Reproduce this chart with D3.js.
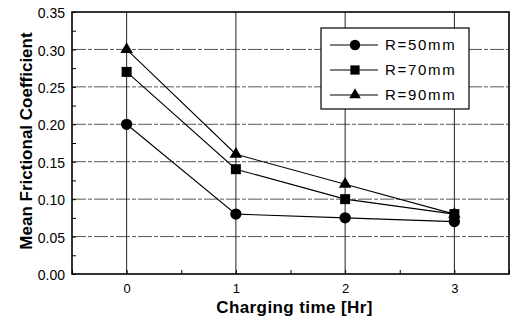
<!DOCTYPE html>
<html>
<head>
<meta charset="utf-8">
<script src="https://cdn.jsdelivr.net/npm/d3@7"></script>
<style>
  body { margin: 0; background: #fff; }
  svg { font-family: "Liberation Sans", Arial, sans-serif; }
</style>
</head>
<body>
<div id="chart"></div>
<script>
const hours = [0, 1, 2, 3];
const r50 = [0.20, 0.08, 0.075, 0.07];
const r70 = [0.27, 0.14, 0.10, 0.08];
const r90 = [0.30, 0.16, 0.12, 0.08];
const seriesNames = ["R=50mm", "R=70mm", "R=90mm"];
const yTicks = [0, 0.05, 0.10, 0.15, 0.20, 0.25, 0.30, 0.35];

const width = 512, height = 320;
const margin = { top: 12, right: 3, bottom: 46, left: 72 };
const w = width - margin.left - margin.right;
const h = height - margin.top - margin.bottom;

const svg = d3.select("#chart").append("svg")
  .attr("width", width)
  .attr("height", height);

const g = svg.append("g")
  .attr("transform", `translate(${margin.left},${margin.top})`);

const x = d3.scaleLinear().domain([-0.5, 3.5]).range([0, w]);
const y = d3.scaleLinear().domain([0, 0.35]).range([h, 0]);

// grid
g.selectAll(".hgrid")
  .data(yTicks.slice(1, -1))
  .enter().append("line")
  .attr("x1", 0).attr("x2", w)
  .attr("y1", d => y(d)).attr("y2", d => y(d))
  .attr("stroke", "#444")
  .attr("stroke-width", 0.9)
  .attr("stroke-dasharray", "14,2,4,2");

g.selectAll(".vgrid")
  .data(hours)
  .enter().append("line")
  .attr("x1", d => x(d)).attr("x2", d => x(d))
  .attr("y1", 0).attr("y2", h)
  .attr("stroke", "#222")
  .attr("stroke-width", 1);

// axes
const yAxis = d3.axisLeft(y)
  .tickValues(d3.range(0, 0.351, 0.025))
  .tickSize(-4)
  .tickFormat(d => Math.round(d * 1000) % 50 === 0 ? d3.format(".2f")(d) : "");
const yg = g.append("g").call(yAxis);
yg.selectAll(".tick line").attr("stroke", "#000");
yg.selectAll("text").attr("x", -7).attr("dy", "0.4em")
  .style("font-size", "14px").attr("fill", "#000");

const xAxis = d3.axisBottom(x)
  .tickValues([-0.5, 0, 0.5, 1, 1.5, 2, 2.5, 3, 3.5])
  .tickSize(-4)
  .tickFormat(d => Number.isInteger(d) ? d : "");
const xg = g.append("g").attr("transform", `translate(0,${h})`).call(xAxis);
xg.selectAll(".tick line").attr("stroke", "#000");
xg.selectAll("text").attr("y", 10).style("font-size", "13px").attr("fill", "#000");
svg.selectAll(".domain").remove();

// frame
g.append("rect")
  .attr("width", w).attr("height", h)
  .attr("fill", "none")
  .attr("stroke", "#000")
  .attr("stroke-width", 1.6);

// series
const series = [
  { name: seriesNames[0], values: r50, shape: d3.symbolCircle, size: 100 },
  { name: seriesNames[1], values: r70, shape: d3.symbolSquare, size: 100 },
  { name: seriesNames[2], values: r90, shape: d3.symbolTriangle, size: 68 }
];

const line = d3.line().x((d, i) => x(hours[i])).y(d => y(d));

series.forEach(s => {
  g.append("path")
    .datum(s.values)
    .attr("fill", "none")
    .attr("stroke", "#000")
    .attr("stroke-width", 1.1)
    .attr("d", line);
  g.selectAll(null)
    .data(s.values)
    .enter().append("path")
    .attr("transform", (d, i) => `translate(${x(hours[i])},${y(d)})`)
    .attr("d", d3.symbol().type(s.shape).size(s.size))
    .attr("fill", "#000");
});

// legend
const lg = svg.append("g").attr("transform", "translate(321,28)");
lg.append("rect")
  .attr("width", 148).attr("height", 81)
  .attr("fill", "#fff")
  .attr("stroke", "#000")
  .attr("stroke-width", 1.2);
series.forEach((s, i) => {
  const yy = 17 + i * 25;
  lg.append("line")
    .attr("x1", 9).attr("x2", 57)
    .attr("y1", yy).attr("y2", yy)
    .attr("stroke", "#000").attr("stroke-width", 1.1);
  lg.append("path")
    .attr("transform", `translate(34,${yy})`)
    .attr("d", d3.symbol().type(s.shape).size(s.size * 0.85))
    .attr("fill", "#000");
  lg.append("text")
    .attr("x", 64).attr("y", yy)
    .attr("dy", "0.36em")
    .style("font-size", "15px")
    .style("letter-spacing", "1.7px")
    .text(s.name);
});

// axis titles
svg.append("text")
  .attr("x", margin.left + w / 2 + 4)
  .attr("y", 313)
  .attr("text-anchor", "middle")
  .style("font-size", "17px")
  .style("font-weight", "bold")
  .style("letter-spacing", "0.4px")
  .text("Charging time [Hr]");

svg.append("text")
  .attr("transform", `translate(32,141) rotate(-90)`)
  .attr("text-anchor", "middle")
  .style("font-size", "17px")
  .style("font-weight", "bold")
  .text("Mean Frictional Coefficient");
</script>
</body>
</html>
